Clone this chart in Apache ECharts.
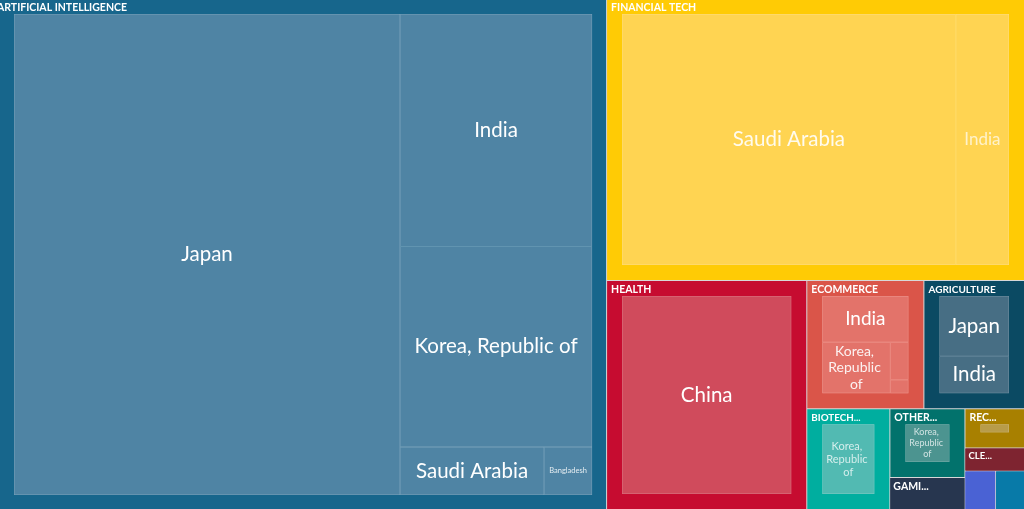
<!DOCTYPE html>
<html><head><meta charset="utf-8">
<style>html,body{margin:0;padding:0;background:#fff;overflow:hidden}#c{width:1024px;height:509px}</style>
<script src="https://cdn.jsdelivr.net/npm/echarts@6/dist/echarts.min.js"></script>
</head><body><div id="c"></div>
<script>
const FONT = 'Lato, "Noto Sans", sans-serif';
const UPPER_FONT = 'Lato, "Noto Sans", sans-serif';
const sectors = ['ARTIFICIAL INTELLIGENCE','FINANCIAL TECH','HEALTH','ECOMMERCE','AGRICULTURE','BIOTECHNOLOGY','OTHER SECTORS','GAMING','RECYCLING','CLEANTECH','EDTECH','MOBILITY'];
const sectorColors = ['#17668c','#ffcb05','#c60c30','#da5549','#0b4a63','#00ae9f','#02726c','#27364f','#a88000','#7e2430','#4a62d4','#087aa8'];
const leafColors = ['#4f84a4','#ffd452','#d04b5c','#e3736a','#476e84','#52bab2','#4c9490','#5d6b7c','#b89c4a','#a05a64','#7080dd','#4a9cc0'];
const lineColors = ['#7aa3bb','#ffdf80','#dd7a87','#ef9a92','#7593a5','#80cdc7','#7bb0ad','#888899','#cdb97f','#bb8890','#9999aa','#88bbcc'];
const aiCountries = ['Japan','India','Korea, Republic of','Saudi Arabia','Bangladesh'];
const aiValues = [185280,44544,38400,6912,2304];
const finCountries = ['Saudi Arabia','India'];
const finValues = [83332,13303];
const healthCountries = ['China'];
const healthValues = [33264];
const ecomCountries = ['India','Korea, Republic of','Thailand','Viet Nam'];
const ecomValues = [3956,3468,675,243];
const agriCountries = ['Japan','India'];
const agriValues = [4140,2553];
const bioCountries = ['Korea, Republic of'];
const bioValues = [3588];
const otherCountries = ['Korea, Republic of'];
const otherValues = [1628];
const recCountries = ['India'];
const recValues = [196];
const sectorTotals = [309315,117526,45700,14976,12864,8342,5138,2400,2320,1369,1180,1110];
const leafSets = [[aiCountries,aiValues],[finCountries,finValues],[healthCountries,healthValues],[ecomCountries,ecomValues],[agriCountries,agriValues],[bioCountries,bioValues],[otherCountries,otherValues],[],[recCountries,recValues]];
const leafFont = [[20.5,20.5,20.5,20.5,7.5],[20.5,17],[20.5],[19,14,9,9],[20.5,20.5],[11],[9],[],[9]];
const leafAlpha = [[1,1,1,1,.85],[.9,.7],[1],[1,.9,0,0],[1,1],[.75],[.75],[],[0]];
const frameWidth = [14,15,15,15,15,15,15,15,15,15];
const upperFont = [10.5,10.5,10.5,10.5,10,9.8,10.5,10.5,10.5,9.5];
const upperOffset = [[-17,1],[-11,1],[-11,1],[-11,1],[-11,1],[-11,1],[-11,1],[],[-11,1]];
const collapsedPad = {7:[3,28,0,3],9:[3,28,0,3]};

function sector(i){
  const set = leafSets[i]||[];
  const col = sectorColors[i];
  if (collapsedPad[i]) {
    return {name:sectors[i],value:sectorTotals[i],
      itemStyle:{color:col,borderColor:col,borderWidth:0},
      label:{show:true,position:'insideTopLeft',distance:0,padding:collapsedPad[i],color:'#fff',fontSize:upperFont[i],fontWeight:'bold',fontFamily:UPPER_FONT,overflow:'truncate',ellipsis:'...'}};
  }
  if (!set.length) {
    return {name:sectors[i],value:sectorTotals[i],itemStyle:{color:col,borderColor:col,borderWidth:0},label:{show:false}};
  }
  const kids = set[0].map((c,j)=>({
    name:c, value:set[1][j],
    itemStyle:{color:leafColors[i],borderColor:lineColors[i],borderWidth:0.5},
    label:{show:leafAlpha[i][j]>0,padding:0,fontSize:leafFont[i][j],overflow:'break',lineHeight:leafFont[i][j]*1.18,color:'rgba(255,255,255,'+leafAlpha[i][j]+')',fontFamily:FONT}
  }));
  return {
    name:sectors[i], value:sectorTotals[i], children:kids,
    itemStyle:{color:col,borderColor:col,borderWidth:frameWidth[i],gapWidth:0},
    upperLabel:{show:true,height:15,padding:0,color:'#fff',fontSize:upperFont[i],fontWeight:'bold',fontFamily:UPPER_FONT,offset:upperOffset[i],ellipsis:'...'}
  };
}
const GAP = '#d8d8d8';
function wrap(name,children){
  return {name,children,itemStyle:{borderWidth:0,gapWidth:1,borderColor:GAP,color:GAP},upperLabel:{show:false},label:{show:false}};
}
const data = [
  sector(0),
  wrap('r1',[
    sector(1),
    wrap('r2',[
      sector(2),
      wrap('r3',[
        wrap('r4',[sector(3),sector(4)]),
        wrap('r5',[
          sector(5),
          wrap('r6',[sector(6),sector(7)]),
          wrap('r7',[sector(8),sector(9),wrap('r8',[sector(10),sector(11)])])
        ])
      ])
    ])
  ])
];
const chart = echarts.init(document.getElementById('c'),null,{renderer:'canvas'});
chart.setOption({
  animation:false,
  series:[{
    type:'treemap',
    left:0,top:-1,width:1024,height:510,
    roam:false,nodeClick:false,
    squareRatio:1,
    sort:false,
    breadcrumb:{show:false},
    levels:[{itemStyle:{borderWidth:0,gapWidth:1,borderColor:GAP,color:GAP}}],
    visibleMin:1,
    label:{show:true,position:'inside',color:'#fff',fontFamily:FONT},
    data
  }]
});
</script></body></html>
